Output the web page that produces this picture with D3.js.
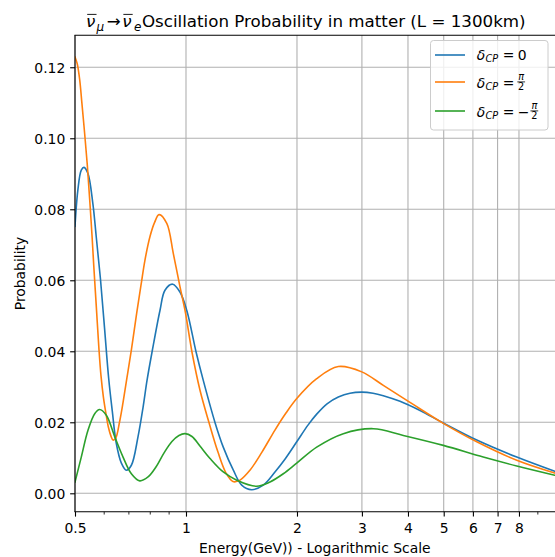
<!DOCTYPE html>
<html><head><meta charset="utf-8">
<script src="https://cdn.jsdelivr.net/npm/d3@7/dist/d3.min.js"></script>
<style>
body{margin:0;background:#fff;}
text{font-family:"DejaVu Sans",sans-serif;fill:#000;}
</style></head>
<body><svg id="c" width="555" height="557"></svg>
<script>
// ---------- data ----------
const seriesLabels = ["0", "π/2", "-π/2"];
const seriesColors = ["#1f77b4", "#ff7f0e", "#2ca02c"];

const energyD0 = [0.500,0.509,0.520,0.529,0.542,0.559,0.571,0.586,0.601,0.617,0.631,0.647,0.668,0.689,0.711,0.741,0.765,0.784,0.809,0.850,0.877,0.920,0.963,1.005,1.065,1.114,1.199,1.262,1.344,1.416,1.507,1.620,1.743,1.855,1.997,2.142,2.262,2.413,2.589,2.785,2.997,3.216,3.429,3.806,4.313,4.988,6.146,7.89,10.0];
const probD0   = [0.0752,0.0854,0.0910,0.0918,0.0901,0.0816,0.0722,0.0605,0.0468,0.0324,0.0232,0.0141,0.0085,0.0065,0.0079,0.0159,0.0243,0.0318,0.0398,0.0515,0.0572,0.0589,0.0567,0.0515,0.0398,0.0318,0.0199,0.0130,0.0065,0.0023,0.0010,0.0023,0.0060,0.0096,0.0145,0.0192,0.0223,0.0252,0.0271,0.0282,0.0285,0.0282,0.0275,0.0259,0.0233,0.0198,0.0150,0.0102,0.0062];

const energyDpi2 = [0.500,0.507,0.515,0.522,0.531,0.540,0.548,0.556,0.562,0.571,0.580,0.588,0.597,0.607,0.616,0.626,0.634,0.644,0.661,0.675,0.692,0.711,0.733,0.755,0.774,0.799,0.822,0.845,0.887,0.924,0.963,0.994,1.038,1.091,1.154,1.221,1.284,1.341,1.401,1.491,1.607,1.743,1.867,1.997,2.262,2.589,2.997,3.429,4.050,4.988,6.146,7.89,10.0];
const probDpi2   = [0.1229,0.1210,0.1164,0.1099,0.1014,0.0924,0.0828,0.0727,0.0643,0.0528,0.0414,0.0332,0.0271,0.0223,0.0186,0.0161,0.0150,0.0154,0.0203,0.0256,0.0327,0.0404,0.0499,0.0586,0.0657,0.0724,0.0763,0.0785,0.0760,0.0675,0.0582,0.0515,0.0398,0.0291,0.0200,0.0116,0.0057,0.0033,0.0037,0.0065,0.0116,0.0178,0.0226,0.0267,0.0323,0.0357,0.0342,0.0304,0.0256,0.0197,0.0145,0.0093,0.0057];

const energyDmpi2 = [0.500,0.520,0.542,0.566,0.583,0.608,0.641,0.675,0.711,0.749,0.789,0.829,0.872,0.916,0.957,0.994,1.038,1.091,1.162,1.262,1.373,1.555,1.690,1.836,1.997,2.262,2.671,3.222,3.885,4.988,6.40,7.89,10.0];
const probDmpi2   = [0.0032,0.0102,0.0177,0.0225,0.0236,0.0220,0.0159,0.0102,0.0055,0.0035,0.0046,0.0074,0.0114,0.0146,0.0163,0.0168,0.0160,0.0133,0.0098,0.0060,0.0037,0.0020,0.0032,0.0055,0.0085,0.0130,0.0168,0.0182,0.0163,0.0135,0.0102,0.0077,0.0051];

const xTickValues = [0.5,1,2,3,4,5,6,7,8];
const xTickLabels = ["0.5","1","2","3","4","5","6","7","8"];
const xMinorTicks = [0.6,0.7,0.8,0.9,9];
const yTickValues = [0,0.02,0.04,0.06,0.08,0.10,0.12];
const yTickLabels = ["0.00","0.02","0.04","0.06","0.08","0.10","0.12"];

// ---------- layout ----------
const L = 75, R = 554.7, T = 35.3, B = 511.76;
const FS = 13.9;
const svg = d3.select("#c");
const x = d3.scaleLog().domain([0.5, 10]).range([L, R]);
const y = d3.scaleLinear().domain([-0.0052, 0.1290]).range([B, T]);

// grid
const grid = svg.append("g");
grid.selectAll("line.gx").data(xTickValues).join("line")
  .attr("x1", d => x(d)).attr("x2", d => x(d)).attr("y1", T).attr("y2", B)
  .attr("stroke", "#b0b0b0").attr("stroke-width", 1.1);
grid.selectAll("line.gy").data(yTickValues).join("line")
  .attr("x1", L).attr("x2", 556).attr("y1", d => y(d)).attr("y2", d => y(d))
  .attr("stroke", "#b0b0b0").attr("stroke-width", 1.1);

// lines
svg.append("defs").append("clipPath").attr("id", "clip")
  .append("rect").attr("x", L).attr("y", T).attr("width", R - L + 2).attr("height", B - T);
const series = [
  d3.zip(energyD0, probD0),
  d3.zip(energyDpi2, probDpi2),
  d3.zip(energyDmpi2, probDmpi2)
];
const line = d3.line().x(d => x(d[0])).y(d => y(d[1])).curve(d3.curveCatmullRom.alpha(0.5));
svg.append("g").attr("clip-path", "url(#clip)")
  .selectAll("path").data(series).join("path")
  .attr("d", line).attr("fill", "none")
  .attr("stroke", (d, i) => seriesColors[i]).attr("stroke-width", 1.6)
  .attr("stroke-linejoin", "round").attr("stroke-linecap", "square");

// axes
const xAxis = d3.axisBottom(x).tickValues(xTickValues)
  .tickFormat((d, i) => xTickLabels[i]).tickSize(4.86).tickSizeOuter(0);
const gxA = svg.append("g").attr("transform", `translate(0,${B})`).call(xAxis);
gxA.select(".domain").remove();
gxA.selectAll(".tick line").attr("stroke", "#000").attr("stroke-width", 1.1);
gxA.selectAll(".tick text").attr("y", 21.6).attr("dy", null)
  .attr("font-size", FS).attr("font-family", "DejaVu Sans").attr("fill", "#000");
svg.append("g").selectAll("line").data(xMinorTicks).join("line")
  .attr("x1", d => x(d)).attr("x2", d => x(d)).attr("y1", B).attr("y2", B + 2.78)
  .attr("stroke", "#000").attr("stroke-width", 0.83);

const yAxis = d3.axisLeft(y).tickValues(yTickValues)
  .tickFormat((d, i) => yTickLabels[i]).tickSize(4.86).tickSizeOuter(0).tickPadding(4.86);
const gyA = svg.append("g").attr("transform", `translate(${L},0)`).call(yAxis);
gyA.select(".domain").remove();
gyA.selectAll(".tick line").attr("stroke", "#000").attr("stroke-width", 1.1);
gyA.selectAll(".tick text").attr("dy", "0.36em")
  .attr("font-size", FS).attr("font-family", "DejaVu Sans").attr("fill", "#000");

// spines
svg.append("line").attr("x1", L).attr("x2", L).attr("y1", T).attr("y2", B).attr("stroke", "#000").attr("stroke-width", 1.1);
svg.append("line").attr("x1", L - 0.55).attr("x2", 556).attr("y1", B).attr("y2", B).attr("stroke", "#000").attr("stroke-width", 1.1);
svg.append("line").attr("x1", L - 0.55).attr("x2", 556).attr("y1", T).attr("y2", T).attr("stroke", "#000").attr("stroke-width", 1.1);

// axis labels
svg.append("text").attr("x", (L + R) / 2).attr("y", 552.5).attr("text-anchor", "middle")
  .attr("font-size", FS).text("Energy(GeV)) - Logarithmic Scale");
svg.append("text").attr("transform", `translate(25.4,${(T + B) / 2}) rotate(-90)`)
  .attr("text-anchor", "middle").attr("font-size", FS).text("Probability");

// rich text helper
function layout(g, x0, base, runs) {
  let cx = x0;
  runs.forEach(r => {
    cx += r.gap || 0;
    if (r.frac) {
      const fs = r.size;
      const num = g.append("text").attr("font-size", fs).attr("font-style", "italic").text(r.frac[0]);
      const den = g.append("text").attr("font-size", fs).text(r.frac[1]);
      const wn = num.node().getComputedTextLength(), wd = den.node().getComputedTextLength();
      const w = Math.max(wn, wd) + 1.6;
      const barY = base - r.axis;
      num.attr("x", cx + (w - wn) / 2).attr("y", barY - 1.6);
      den.attr("x", cx + (w - wd) / 2).attr("y", barY + 1.4 + fs * 0.73);
      g.append("line").attr("x1", cx).attr("x2", cx + w).attr("y1", barY).attr("y2", barY)
        .attr("stroke", "#000").attr("stroke-width", 0.8);
      cx += w;
    } else {
      const t = g.append("text").attr("x", cx).attr("y", base + (r.dy || 0))
        .attr("font-size", r.size).text(r.text);
      if (r.italic) t.attr("font-style", "italic");
      const w = t.node().getComputedTextLength();
      if (r.over) {
        g.append("line").attr("x1", cx + 1.2).attr("x2", cx + w + 1.2)
          .attr("y1", base - r.over).attr("y2", base - r.over)
          .attr("stroke", "#000").attr("stroke-width", 0.9);
      }
      cx += w;
    }
  });
  return cx - x0;
}

// title
const TS = 16.7;
const tg = svg.append("g");
layout(tg, 86, 27, [
  {text: "ν", italic: true, size: TS, over: 12.6},
  {text: "μ", italic: true, size: TS * 0.72, dy: 3.8, gap: 1.2},
  {text: "→", size: TS, gap: 2.5},
  {text: "ν", italic: true, size: TS, over: 12.6, gap: 1.5},
  {text: "e", italic: true, size: TS * 0.72, dy: 3.8, gap: 2.5},
  {text: "Oscillation Probability in matter (L = 1300km)", size: TS, gap: 0.5}
]);

// legend
const lg = svg.append("g");
lg.append("rect").attr("x", 430.5).attr("y", 40.5).attr("width", 117.5).attr("height", 89.5)
  .attr("rx", 3).attr("fill", "#fff").attr("fill-opacity", 0.8)
  .attr("stroke", "#cccccc").attr("stroke-width", 1);
const rowY = [55, 82, 111];
const rowBase = [59.8, 87.5, 116.5];
const legendRuns = [
  [{text: "=", size: FS, gap: 4.5}, {text: "0", size: FS, gap: 3.5}],
  [{text: "=", size: FS, gap: 4.5}, {frac: ["π", "2"], size: FS * 0.7, axis: 5.6, gap: 3}],
  [{text: "=", size: FS, gap: 4.5}, {text: "−", size: FS, gap: 3.5}, {frac: ["π", "2"], size: FS * 0.7, axis: 5.6, gap: 1}]
];
seriesLabels.forEach((lab, i) => {
  lg.append("line").attr("x1", 435).attr("x2", 465).attr("y1", rowY[i]).attr("y2", rowY[i])
    .attr("stroke", seriesColors[i]).attr("stroke-width", 1.6);
  layout(lg, 476.7, rowBase[i], [
    {text: "δ", italic: true, size: FS},
    {text: "CP", italic: true, size: FS * 0.7, dy: 2.6, gap: 0.3}
  ].concat(legendRuns[i]));
});
</script>
</body></html>
